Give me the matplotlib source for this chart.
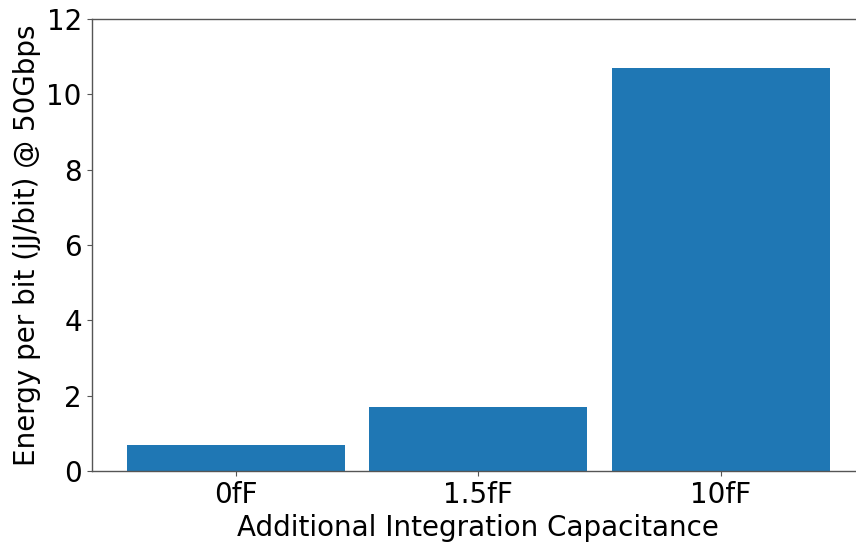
import matplotlib
matplotlib.use("Agg")
import matplotlib.pyplot as plt

categories = ["0fF", "1.5fF", "10fF"]
energy = [0.70, 1.70, 10.70]

fig = plt.figure(figsize=(8.56, 5.45), dpi=100)
ax = fig.add_axes([0.107, 0.1358, 0.9035, 0.8292])
ax.bar(categories, energy, width=0.9, color="#1f77b4")
ax.set_ylim(0, 12)
ax.set_yticks([0, 2, 4, 6, 8, 10, 12])
ax.tick_params(labelsize=20, color="#555555")
for s in ax.spines.values():
    s.set_color("#555555")
    s.set_linewidth(1.0)
ax.set_xlabel("Additional Integration Capacitance", fontsize=20)
ax.set_ylabel("Energy per bit (jJ/bit) @ 50Gbps", fontsize=20)
fig.savefig("out.png", dpi=100)
